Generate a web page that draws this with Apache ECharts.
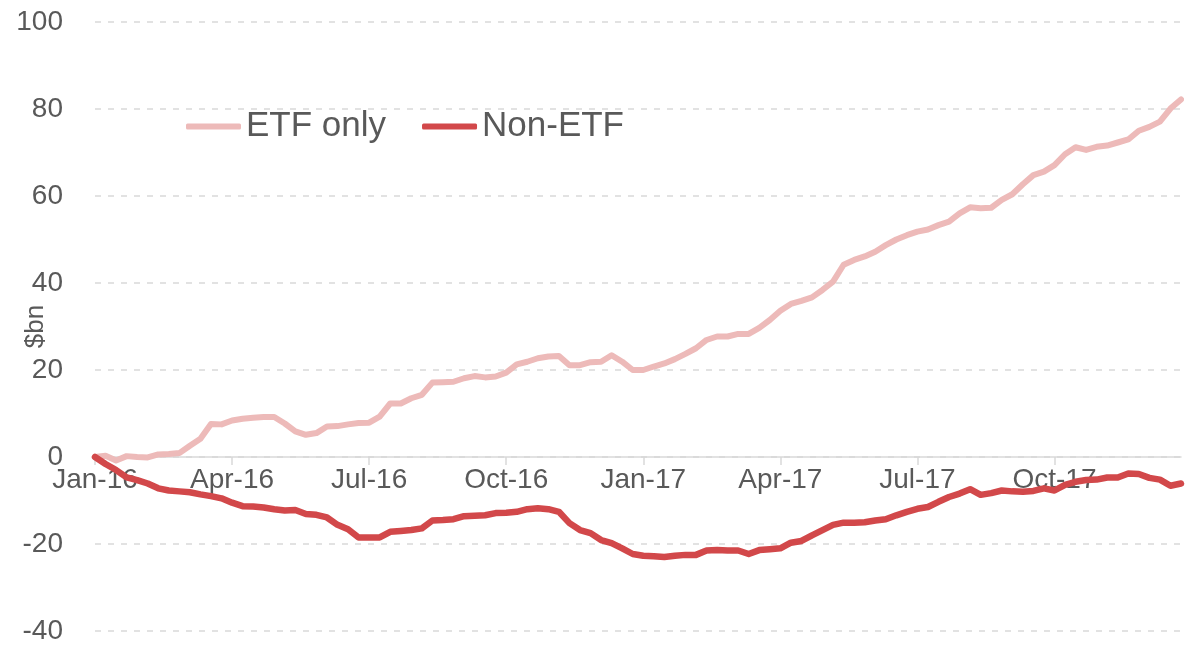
<!DOCTYPE html>
<html>
<head>
<meta charset="utf-8">
<script src="https://cdn.jsdelivr.net/npm/echarts@6/dist/echarts.min.js"></script>
<style>
  html, body { margin: 0; padding: 0; background: #fff; }
  #chart { width: 1201px; height: 648px; }
</style>
</head>
<body>
<div id="chart"></div>
<script>
// weekly points, Jan-16 .. Dec-17
let tickLabels = ['Jan-16', 'Apr-16', 'Jul-16', 'Oct-16', 'Jan-17', 'Apr-17', 'Jul-17', 'Oct-17'];
let weeksPerTick = 13;

let etfOnly = [
    0, 0.3, -0.8, 0.2, 0.0, -0.1, 0.6, 0.7, 0.9, 2.6, 4.2, 7.6, 7.5,
    8.4, 8.8, 9.0, 9.2, 9.2, 7.7, 5.9, 5.1, 5.5, 7.0, 7.1, 7.5, 7.8,
    7.9, 9.3, 12.3, 12.3, 13.5, 14.3, 17.1, 17.2, 17.3, 18.1, 18.6, 18.3, 18.5,
    19.4, 21.3, 21.9, 22.7, 23.1, 23.2, 21.1, 21.1, 21.8, 21.9, 23.4, 21.9, 20.0,
    20.0, 20.8, 21.5, 22.5, 23.7, 25.0, 26.9, 27.7, 27.7, 28.3, 28.3, 29.7, 31.5,
    33.6, 35.2, 35.9, 36.7, 38.4, 40.3, 44.2, 45.3, 46.1, 47.2, 48.7, 50.0, 51.0,
    51.8, 52.3, 53.3, 54.1, 56.0, 57.4, 57.2, 57.3, 59.1, 60.4, 62.7, 64.8, 65.6,
    67.1, 69.6, 71.2, 70.6, 71.3, 71.6, 72.3, 73.0, 75.0, 75.9, 77.1, 80.1, 82.2
];

let nonEtf = [
    0, -1.6, -3.0, -4.7, -5.3, -6.1, -7.2, -7.7, -7.9, -8.1, -8.6, -9.0, -9.5,
    -10.5, -11.3, -11.4, -11.6, -12.0, -12.3, -12.2, -13.1, -13.3, -13.9, -15.6, -16.6, -18.5,
    -18.5, -18.5, -17.2, -17.0, -16.8, -16.4, -14.6, -14.5, -14.3, -13.6, -13.5, -13.4, -12.9,
    -12.8, -12.6, -12.0, -11.8, -12.0, -12.6, -15.2, -16.8, -17.5, -19.1, -19.8, -21.0, -22.3,
    -22.7, -22.8, -23.0, -22.7, -22.5, -22.5, -21.5, -21.4, -21.5, -21.5, -22.3, -21.4, -21.2,
    -21.0, -19.7, -19.3, -18.0, -16.8, -15.6, -15.1, -15.1, -15.0, -14.6, -14.3, -13.4, -12.6,
    -11.9, -11.5, -10.3, -9.2, -8.4, -7.4, -8.7, -8.3, -7.7, -7.9, -8.0, -7.8, -7.2,
    -7.7, -6.4, -5.7, -5.3, -5.2, -4.7, -4.7, -3.8, -3.9, -4.8, -5.2, -6.6, -6.1
];

let yMin = -40, yMax = 100;

// week index categories
let weeks = [];
for (let i = 0; i < etfOnly.length; i++) {
    weeks.push('w' + i);
}

let font = 'Liberation Sans';
let textColor = '#595959';
let gridColor = '#d9d9d9';
let gridTop = 22, gridBottom = 17, chartHeight = 648;

function isTick(index) {
    return index % weeksPerTick === 0;
}

// move the category axis up to the zero line
let plotHeight = chartHeight - gridTop - gridBottom;
let zeroOffset = -plotHeight * (0 - yMin) / (yMax - yMin);

let chart = echarts.init(document.getElementById('chart'));
chart.setOption({
    animation: false,
    grid: {
        left: 95,
        right: 20,
        top: gridTop,
        bottom: gridBottom,
        outerBoundsMode: 'none'
    },
    legend: {
        left: 181,
        top: 104,
        icon: 'roundRect',
        itemWidth: 55,
        itemHeight: 6,
        itemGap: 36,
        textStyle: {
            fontFamily: font,
            fontSize: 35,
            color: textColor
        },
        data: ['ETF only', 'Non-ETF']
    },
    xAxis: {
        type: 'category',
        data: weeks,
        boundaryGap: false,
        position: 'bottom',
        offset: zeroOffset,
        axisLine: {
            onZero: false,
            lineStyle: { color: gridColor, width: 1.5 }
        },
        axisTick: {
            interval: isTick,
            length: 8,
            lineStyle: { color: gridColor, width: 1.5 }
        },
        axisLabel: {
            interval: isTick,
            margin: 9,
            fontFamily: font,
            fontSize: 28,
            color: textColor,
            formatter: function (value, index) {
                return tickLabels[index / weeksPerTick];
            }
        },
        splitLine: { show: false }
    },
    yAxis: {
        type: 'value',
        min: yMin,
        max: yMax,
        interval: 20,
        name: '$bn',
        nameLocation: 'middle',
        nameGap: 46,
        nameMoveOverlap: false,
        nameTextStyle: {
            fontFamily: font,
            fontSize: 26,
            color: textColor
        },
        axisLine: { show: false },
        axisTick: { show: false },
        axisLabel: {
            margin: 32,
            fontFamily: font,
            fontSize: 28,
            color: textColor
        },
        splitLine: {
            lineStyle: { color: gridColor, width: 1.5, type: [6, 7] }
        }
    },
    series: [
        {
            name: 'ETF only',
            type: 'line',
            data: etfOnly,
            symbol: 'none',
            lineStyle: { color: '#edbab9', width: 6, cap: 'round', join: 'round' },
            itemStyle: { color: '#edbab9' }
        },
        {
            name: 'Non-ETF',
            type: 'line',
            data: nonEtf,
            symbol: 'none',
            lineStyle: { color: '#d2484a', width: 6.5, cap: 'round', join: 'round' },
            itemStyle: { color: '#d2484a' }
        }
    ]
});

window.addEventListener('resize', function () {
    chart.resize();
});
</script>
</body>
</html>
